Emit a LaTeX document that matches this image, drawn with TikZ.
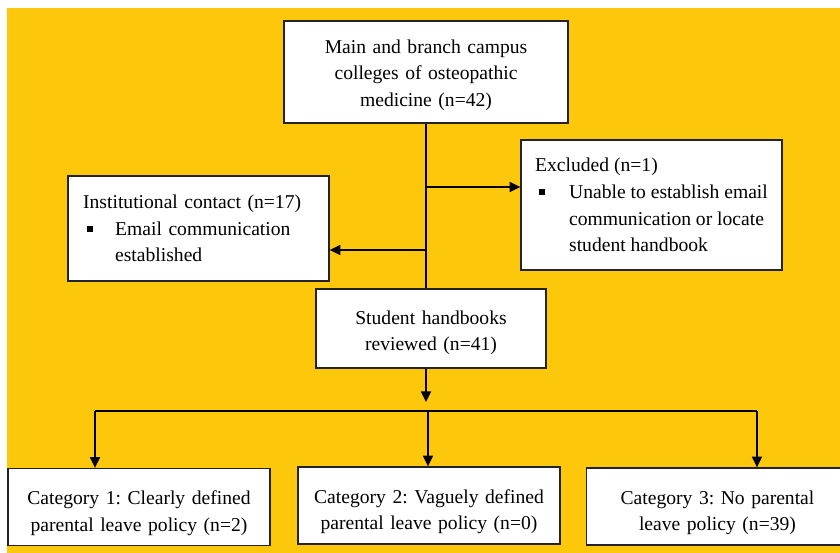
\documentclass[tikz,border=0pt]{standalone}
\usepackage{fontspec}
\setmainfont{Liberation Serif}
\usetikzlibrary{arrows.meta}
\definecolor{bgyellow}{RGB}{253,200,12}
\definecolor{edgegray}{RGB}{35,35,35}
\newlength{\pxl}
\setlength{\pxl}{0.75pt}
\newcommand{\sqbul}{\rule[0.18em]{4.5pt}{4.5pt}}
\newcommand{\lowr}[1]{\rule{0pt}{#1}}
\frenchspacing
\begin{document}
\begin{tikzpicture}[x=0.75pt,y=-0.75pt,
  box/.style={draw=edgegray, line width=1pt, fill=white, inner sep=0pt,
    font=\fontsize{14.7}{20}\selectfont\frenchspacing},
  cbox/.style={box, align=center, text width=185pt},
  lbox/.style={box, align=left},
  conn/.style={draw=black, line width=1.1pt},
  arr/.style={conn, -{Triangle[length=8pt,width=7.5pt]}}]
\useasboundingbox (0,0) rectangle (840,553);
\fill[white] (0,0) rectangle (840,553);
\fill[bgyellow] (7,8) rectangle (840,553);

\node[cbox, minimum width=213pt, minimum height=76.5pt] (top) at (426,72)
  {\lowr{15pt}Main and branch campus\\colleges of osteopathic\\medicine (n=42)};
\node[lbox, text width=173pt, minimum width=195.75pt, minimum height=78.75pt] (inst) at (198.5,228.5)
  {Institutional contact (n=17)\\
   \makebox[32\pxl][l]{\hspace*{4\pxl}\sqbul}Email communication\\
   \hspace*{32\pxl}established};
\node[lbox, minimum width=195.75pt, minimum height=97.5pt] (excl) at (651.5,205)
  {Excluded (n=1)\\
   \makebox[34\pxl][l]{\hspace*{4\pxl}\sqbul}Unable to establish email\\
   \hspace*{34\pxl}communication or locate\\
   \hspace*{34\pxl}student handbook};
\node[cbox, text width=165pt, minimum width=172.5pt, minimum height=59.25pt] (stud) at (431,328.5)
  {\lowr{16.5pt}Student handbooks\\reviewed (n=41)};
\node[cbox, minimum width=196.5pt, minimum height=57.75pt] (c1) at (139,507)
  {\lowr{19.5pt}Category 1: Clearly defined\\parental leave policy (n=2)};
\node[cbox, minimum width=196.5pt, minimum height=57.75pt] (c2) at (429,505.5)
  {\lowr{19.5pt}Category 2: Vaguely defined\\parental leave policy (n=0)};
\node[cbox, minimum width=196.5pt, minimum height=57.75pt] (c3) at (717.5,506.5)
  {\lowr{19.5pt}Category 3: No parental\\leave policy (n=39)};

\coordinate (jr) at (426,187);
\coordinate (jl) at (426,250);
\coordinate (sa) at (426,402);
\coordinate (h1) at (95,411);
\coordinate (h2) at (428,411);
\coordinate (h3) at (757,411);

\draw[conn] (top.south -| jr) -- (stud.north -| jr);
\draw[arr] (jr) -- (jr -| excl.west);
\draw[arr] (jl) -- (jl -| inst.east);
\draw[arr] (stud.south -| sa) -- (sa);
\draw[conn] (h1) -- (h3);
\draw[arr] (h1) -- (h1 |- c1.north);
\draw[arr] (h2) -- (h2 |- c2.north);
\draw[arr] (h3) -- (h3 |- c3.north);
\end{tikzpicture}
\end{document}
